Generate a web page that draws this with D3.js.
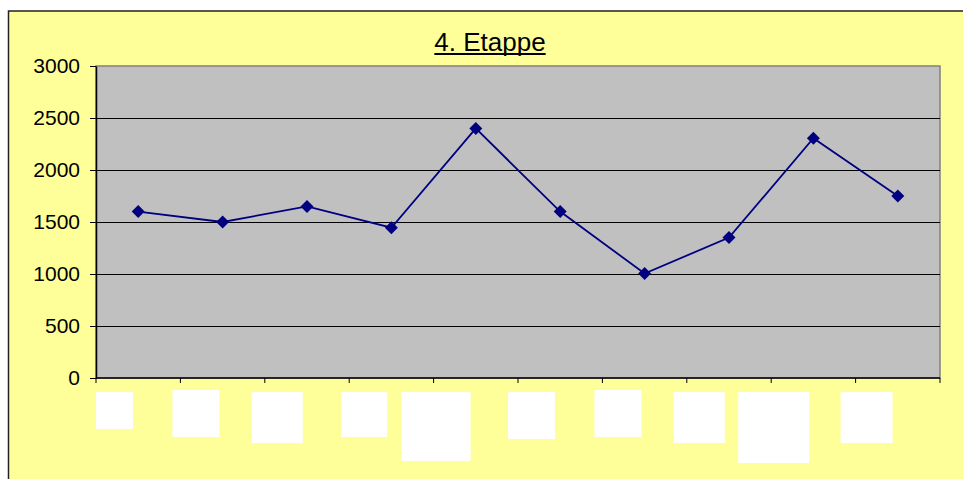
<!DOCTYPE html>
<html>
<head>
<meta charset="utf-8">
<script src="https://cdn.jsdelivr.net/npm/d3@7"></script>
<style>
  body { margin: 0; background: #fff; }
  svg { display: block; font-family: "Liberation Sans", Arial, sans-serif; }
</style>
</head>
<body>
<svg id="chart" width="963" height="479"></svg>
<script>
// chart data
var title = "4. Etappe";
var stages = ["1", "2", "3", "4", "5", "6", "7", "8", "9", "10"];
var values = [1600, 1500, 1650, 1445, 2400, 1600, 1005, 1350, 2305, 1750];
var yTicks = [0, 500, 1000, 1500, 2000, 2500, 3000];

// blank white label boxes under each category: [offset from band start, width, height, top]
var labelBoxes = [
  [0, 37, 37, 392], [-8, 47, 47, 390], [-13, 51, 51, 392], [-8, 46, 45, 392],
  [-32, 69, 69, 392], [-10, 47, 47, 392], [-8, 47, 47, 390], [-13, 51, 51, 392],
  [-33, 71, 71, 392], [-15, 52, 51, 392]
];

var svg = d3.select("#chart");

// plot area bounds
var plotLeft = 96, plotRight = 940, plotTop = 66, plotBottom = 378;

// outer chart background + border
svg.append("rect")
  .attr("x", 8.5).attr("y", 11)
  .attr("width", 1000).attr("height", 1000)
  .attr("fill", "#FFFF99")
  .attr("stroke", "#222")
  .attr("stroke-width", 1.5);

var x = d3.scaleBand().domain(stages).range([plotLeft, plotRight]);
var y = d3.scaleLinear().domain([0, 3000]).range([plotBottom, plotTop]);

// plot area
svg.append("rect")
  .attr("x", plotLeft).attr("y", plotTop)
  .attr("width", plotRight - plotLeft).attr("height", plotBottom - plotTop)
  .attr("fill", "#C0C0C0")
  .attr("stroke", "#808080")
  .attr("stroke-width", 1.5);

// gridlines
svg.append("g")
  .selectAll("line")
  .data(yTicks.filter(function(d) { return d > 0 && d < 3000; }))
  .enter().append("line")
  .attr("x1", plotLeft).attr("x2", plotRight)
  .attr("y1", function(d) { return Math.round(y(d)) + 0.5; })
  .attr("y2", function(d) { return Math.round(y(d)) + 0.5; })
  .attr("stroke", "#000")
  .attr("stroke-width", 1);

// y axis
var yAxis = svg.append("g")
  .attr("transform", "translate(" + plotLeft + ",0)")
  .call(d3.axisLeft(y).tickValues(yTicks).tickFormat(d3.format("d"))
    .tickSize(6).tickPadding(10).tickSizeOuter(0));
yAxis.select(".domain").attr("stroke", "#000").attr("stroke-width", 1.5);
yAxis.selectAll(".tick line").attr("stroke", "#000");
yAxis.selectAll(".tick text")
  .attr("font-size", 21)
  .attr("fill", "#000")
  .attr("font-family", "Liberation Sans, Arial, sans-serif");

// x axis: ticks between categories
var xAxis = svg.append("g")
  .attr("transform", "translate(0," + plotBottom + ")");
xAxis.append("line")
  .attr("x1", plotLeft).attr("x2", plotRight)
  .attr("stroke", "#000").attr("stroke-width", 1.5);
xAxis.selectAll("line.tk")
  .data(stages.concat(["end"]))
  .enter().append("line")
  .attr("class", "tk")
  .attr("x1", function(d, i) { return plotLeft + i * x.bandwidth(); })
  .attr("x2", function(d, i) { return plotLeft + i * x.bandwidth(); })
  .attr("y1", 0).attr("y2", 5)
  .attr("stroke", "#000");

// white label boxes
svg.append("g")
  .selectAll("rect")
  .data(stages)
  .enter().append("rect")
  .attr("x", function(d, i) { return x(d) + labelBoxes[i][0]; })
  .attr("y", function(d, i) { return labelBoxes[i][3]; })
  .attr("width", function(d, i) { return labelBoxes[i][1]; })
  .attr("height", function(d, i) { return labelBoxes[i][2]; })
  .attr("fill", "#fff");

// series line
var cx = function(d, i) { return x(stages[i]) + x.bandwidth() / 2; };
var line = d3.line()
  .x(cx)
  .y(function(d) { return y(d); });

svg.append("path")
  .datum(values)
  .attr("d", line)
  .attr("fill", "none")
  .attr("stroke", "#000080")
  .attr("stroke-width", 1.8);

// diamond markers
svg.append("g")
  .selectAll("path")
  .data(values)
  .enter().append("path")
  .attr("d", function(d, i) {
    var px = cx(d, i), py = y(d), r = 6.5;
    return "M" + px + "," + (py - r) + "L" + (px + r) + "," + py +
      "L" + px + "," + (py + r) + "L" + (px - r) + "," + py + "Z";
  })
  .attr("fill", "#000080");

// title
var t = svg.append("text")
  .attr("x", 490).attr("y", 51)
  .attr("text-anchor", "middle")
  .attr("font-size", 26)
  .attr("fill", "#000")
  .text(title);

var bb = t.node().getBBox();
svg.append("line")
  .attr("x1", bb.x).attr("x2", bb.x + bb.width)
  .attr("y1", 54).attr("y2", 54)
  .attr("stroke", "#000").attr("stroke-width", 2);
</script>
</body>
</html>
